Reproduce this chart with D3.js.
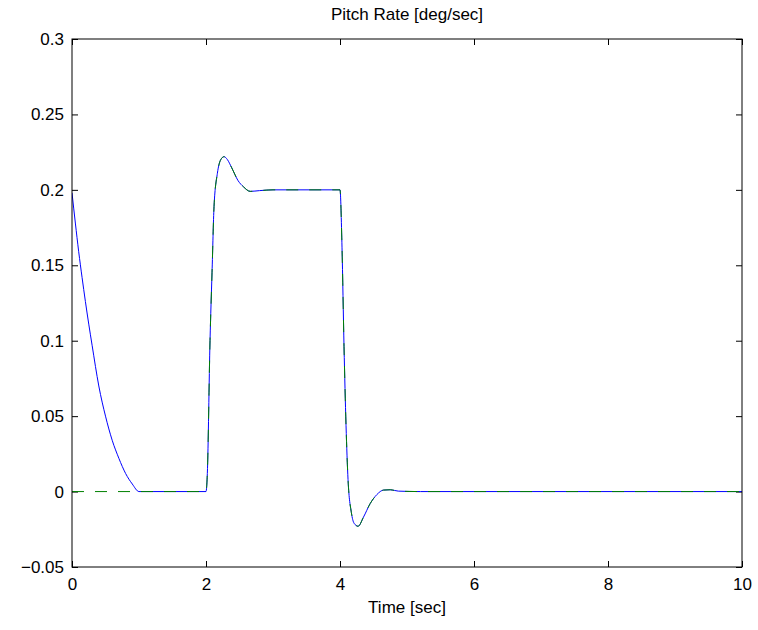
<!DOCTYPE html>
<html>
<head>
<meta charset="utf-8">
<script src="https://cdn.jsdelivr.net/npm/d3@7"></script>
<style>
    body { margin: 0; background: #fff; }
    svg text { font-family: "Liberation Sans", Arial, Helvetica, sans-serif; fill: #000; }
</style>
</head>
<body>
<svg id="chart" width="758" height="630"></svg>
<script>
// measured pitch rate (blue, solid)
const responseTime = [0, 0.05, 0.1, 0.15, 0.2, 0.25, 0.3, 0.4, 0.5, 0.6, 0.7, 0.8, 0.9, 1.0,
    2.0, 2.02, 2.06, 2.09, 2.12, 2.17, 2.22, 2.27, 2.32, 2.38, 2.48, 2.56, 2.66, 2.8, 3.0,
    4.0, 4.03, 4.06, 4.12, 4.17, 4.21, 4.27, 4.35, 4.45, 4.55, 4.65, 4.75, 4.87, 5.2, 10];
const responseValue = [0.198, 0.178, 0.159, 0.142, 0.126, 0.111, 0.097, 0.070, 0.050, 0.034, 0.022, 0.012, 0.005, 0,
    0, 0.012, 0.100, 0.145, 0.189, 0.211, 0.220, 0.222, 0.220, 0.215, 0.206, 0.202, 0.199, 0.1995, 0.2,
    0.2, 0.162, 0.096, 0.008, -0.014, -0.021, -0.023, -0.017, -0.008, -0.002, 0.001, 0.0012, 0.0003, 0, 0];

// model / commanded pitch rate (green, dashed)
const modelTime = [0, 1.0,
    2.0, 2.02, 2.06, 2.09, 2.12, 2.17, 2.22, 2.27, 2.32, 2.38, 2.48, 2.56, 2.66, 2.8, 3.0,
    4.0, 4.03, 4.06, 4.12, 4.17, 4.21, 4.27, 4.35, 4.45, 4.55, 4.65, 4.75, 4.87, 5.2, 10];
const modelValue = [0, 0,
    0, 0.012, 0.100, 0.145, 0.189, 0.211, 0.220, 0.222, 0.220, 0.215, 0.206, 0.202, 0.199, 0.1995, 0.2,
    0.2, 0.162, 0.096, 0.008, -0.014, -0.021, -0.023, -0.017, -0.008, -0.002, 0.001, 0.0012, 0.0003, 0, 0];

const xTicks = [0, 2, 4, 6, 8, 10];
const yTicks = [-0.05, 0, 0.05, 0.1, 0.15, 0.2, 0.25, 0.3];

const TITLE = 'Pitch Rate [deg/sec]';
const X_LABEL = 'Time [sec]';

const margin = { left: 72, right: 16, top: 39, bottom: 63 };
const width = 758;
const height = 630;
const FONT_SIZE = 17;
const TICK_LEN = 6;

const svg = d3.select('#chart');

const x = d3.scaleLinear().domain([0, 10]).range([margin.left, width - margin.right]);
const y = d3.scaleLinear().domain([-0.05, 0.3]).range([height - margin.bottom, margin.top]);

const fmtY = d => d === 0 ? '0' : d3.format('')(+d.toFixed(2)).replace('-', '\u2212');

// ticks inside the box on all four sides
const axisBottom = d3.axisBottom(x).tickValues(xTicks).tickSizeInner(-TICK_LEN).tickSizeOuter(0).tickPadding(11).tickFormat(d3.format('d'));
const axisTop = d3.axisTop(x).tickValues(xTicks).tickSizeInner(-TICK_LEN).tickSizeOuter(0).tickFormat('');
const axisLeft = d3.axisLeft(y).tickValues(yTicks).tickSizeInner(-TICK_LEN).tickSizeOuter(0).tickPadding(8).tickFormat(fmtY);
const axisRight = d3.axisRight(y).tickValues(yTicks).tickSizeInner(-TICK_LEN).tickSizeOuter(0).tickFormat('');

const styleAxis = g => {
    g.select('.domain').remove();
    g.selectAll('.tick line').attr('stroke', '#000').attr('stroke-width', 1);
    g.selectAll('.tick text').style('font-size', FONT_SIZE + 'px').attr('fill', '#000');
};

svg.append('g').attr('transform', `translate(0,${y(-0.05)})`).call(axisBottom).call(styleAxis);
svg.append('g').attr('transform', `translate(0,${y(0.3)})`).call(axisTop).call(styleAxis);
svg.append('g').attr('transform', `translate(${x(0)},0)`).call(axisLeft).call(styleAxis);
svg.append('g').attr('transform', `translate(${x(10)},0)`).call(axisRight).call(styleAxis);

svg.append('clipPath').attr('id', 'plotClip')
    .append('rect')
    .attr('x', x(0)).attr('y', y(0.3))
    .attr('width', x(10) - x(0)).attr('height', y(-0.05) - y(0.3));

const line = d3.line()
    .x(d => x(d[0]))
    .y(d => y(d[1]))
    .curve(d3.curveMonotoneX);

svg.append('path')
    .attr('d', line(d3.zip(responseTime, responseValue)))
    .attr('fill', 'none')
    .attr('stroke', '#0000ff')
    .attr('stroke-width', 1)
    .attr('clip-path', 'url(#plotClip)');

svg.append('path')
    .attr('d', line(d3.zip(modelTime, modelValue)))
    .attr('fill', 'none')
    .attr('stroke', '#008000')
    .attr('stroke-width', 1)
    .attr('stroke-dasharray', '12,11')
    .attr('clip-path', 'url(#plotClip)');

// box
svg.append('rect')
    .attr('x', x(0)).attr('y', y(0.3))
    .attr('width', x(10) - x(0)).attr('height', y(-0.05) - y(0.3))
    .attr('fill', 'none')
    .attr('stroke', '#000')
    .attr('stroke-width', 1);

svg.append('text')
    .attr('x', (x(0) + x(10)) / 2)
    .attr('y', 20)
    .attr('text-anchor', 'middle')
    .style('font-size', FONT_SIZE + 'px')
    .text(TITLE);

svg.append('text')
    .attr('x', (x(0) + x(10)) / 2)
    .attr('y', 613)
    .attr('text-anchor', 'middle')
    .style('font-size', FONT_SIZE + 'px')
    .text(X_LABEL);
</script>
</body>
</html>
